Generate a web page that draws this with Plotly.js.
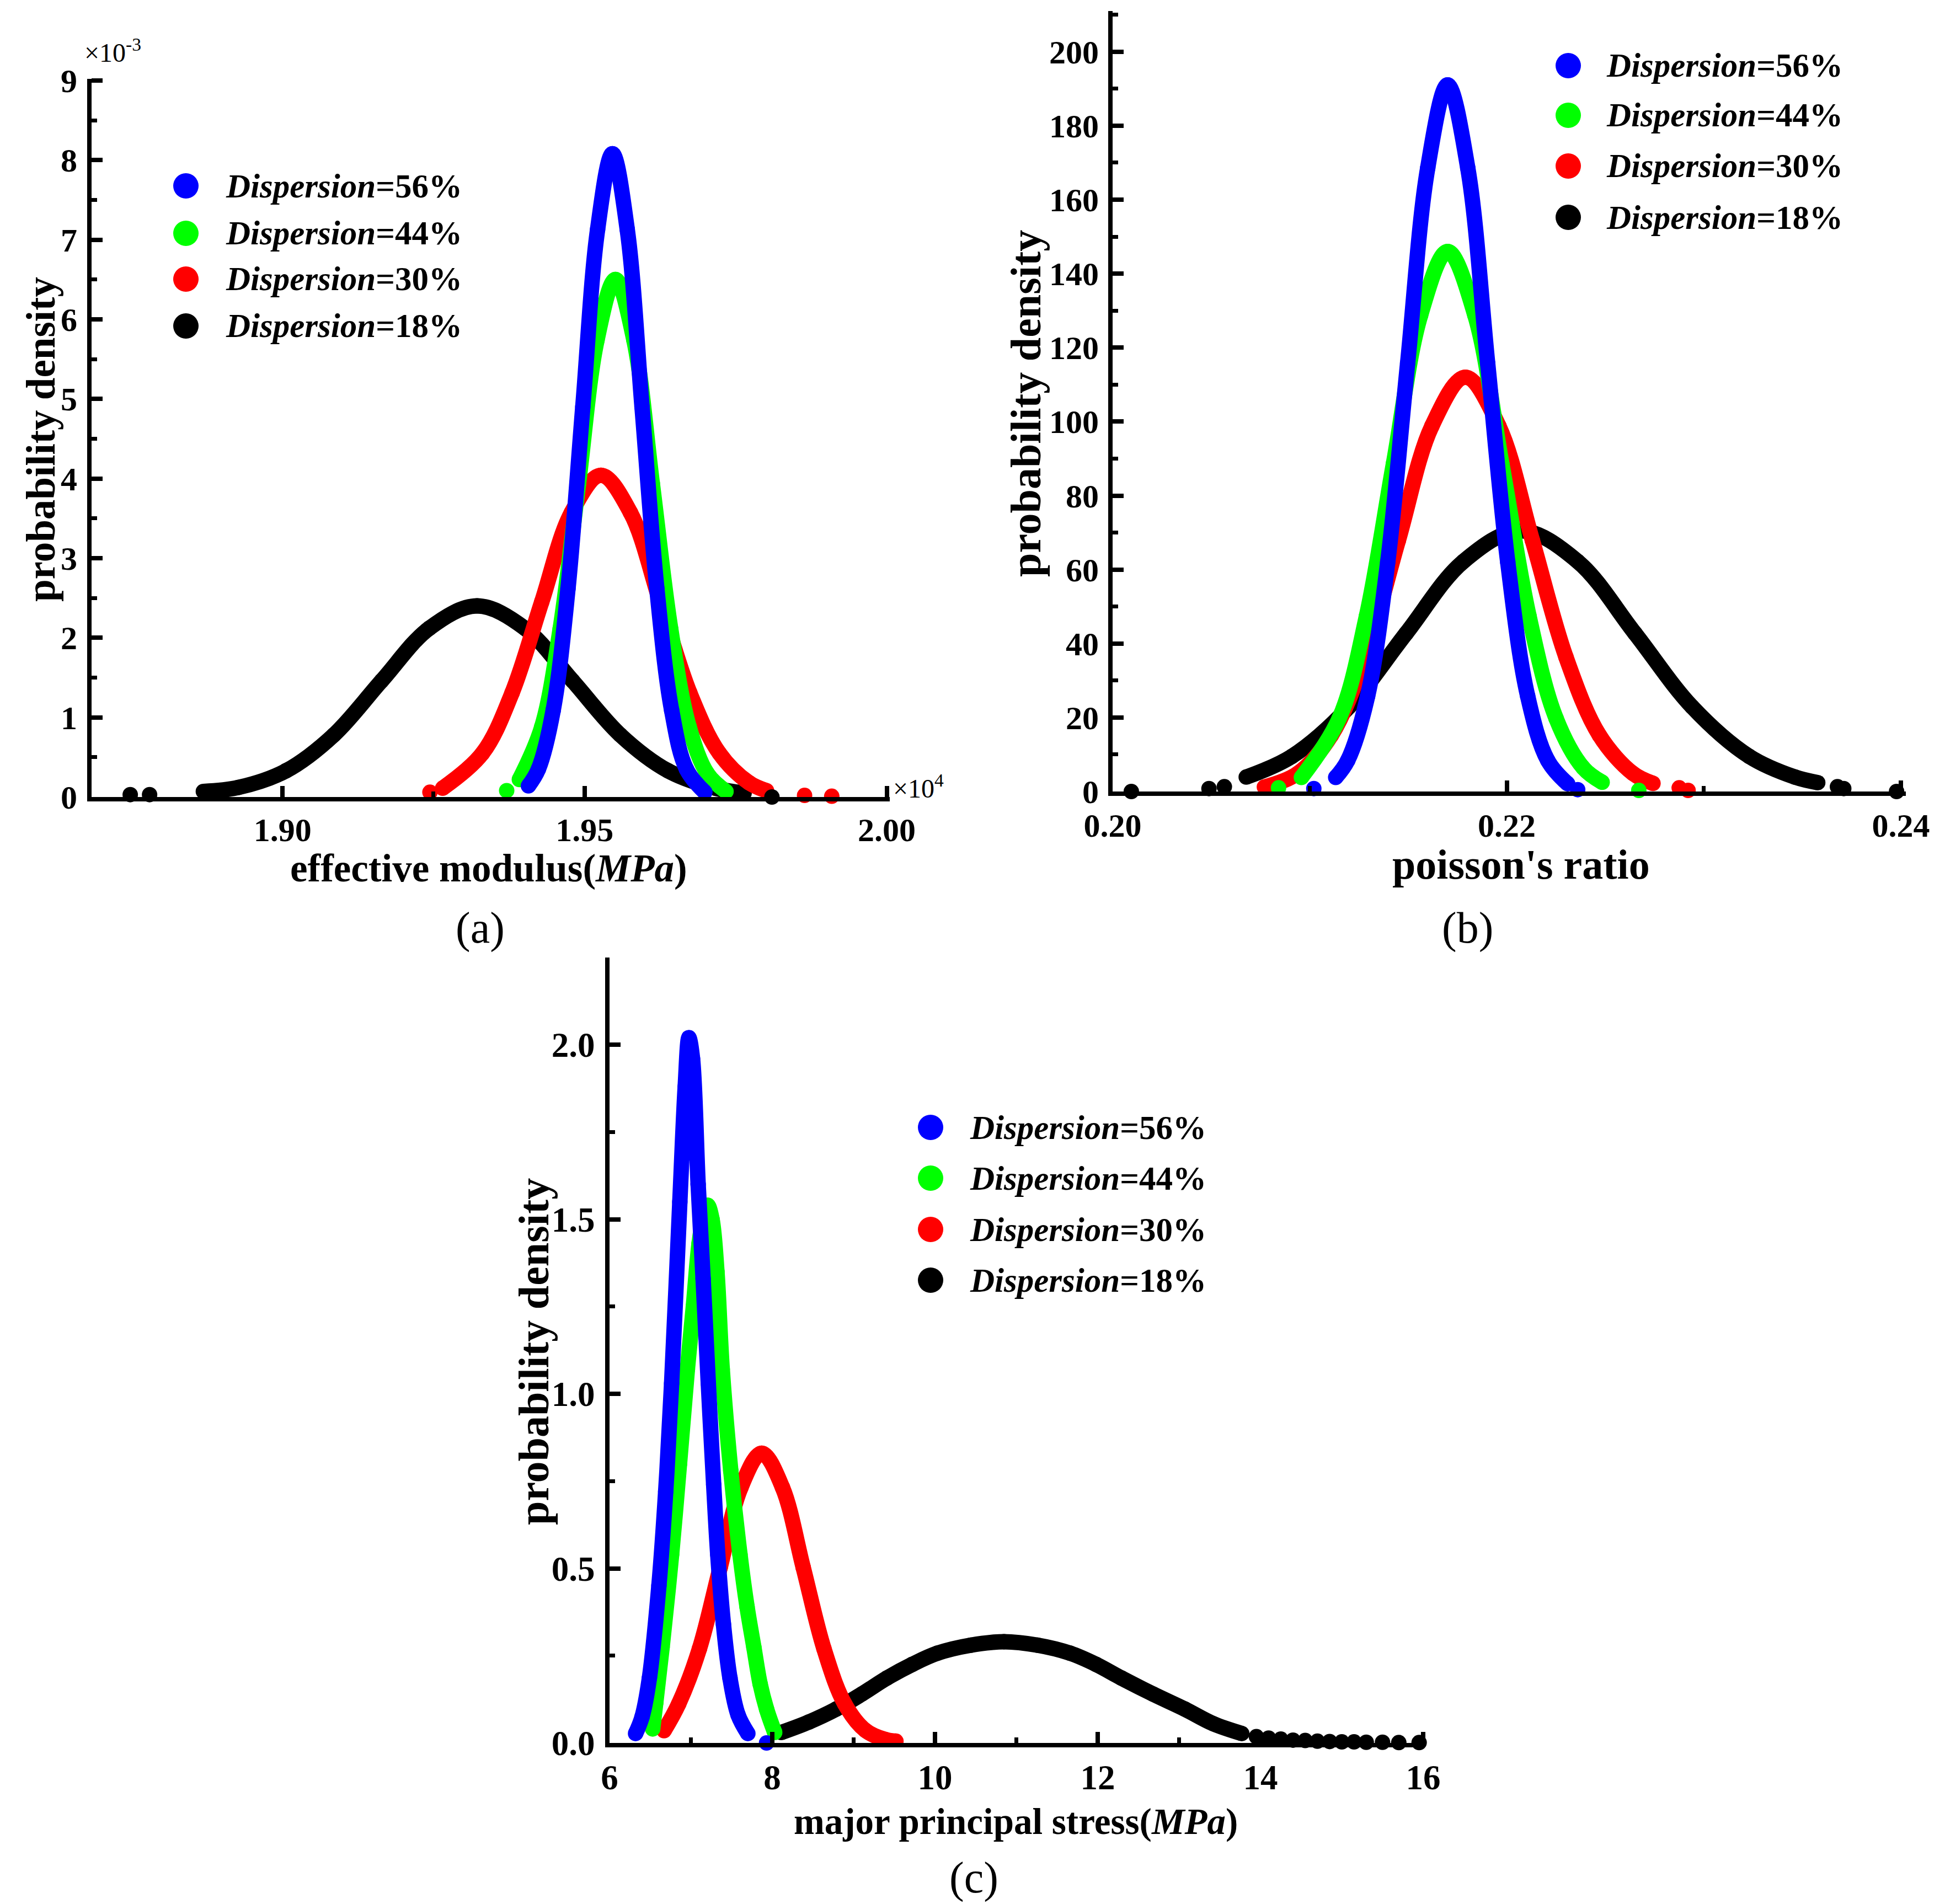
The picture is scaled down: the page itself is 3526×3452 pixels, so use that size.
<!DOCTYPE html>
<html lang="en">
<head>
    <meta charset="UTF-8">
    <title>Probability density by dispersion</title>
    <script src="https://cdn.plot.ly/plotly-3.0.1.min.js"></script>
    <style>
        body { margin: 0; background: #fff; }
        #plot { width: 3526px; height: 3452px; }
    </style>
</head>

<body>
<div id="plot"></div>
</body>

<script>
    // series labels, same order in all three panels
    let seriesNames = ["Dispersion=56%", "Dispersion=44%", "Dispersion=30%", "Dispersion=18%"]

    // (a) effective modulus, x in 10^4 MPa, y in 10^-3
    let aBlue56X = [1.9407, 1.94235, 1.9448, 1.94725, 1.9497, 1.95215, 1.9546, 1.95705, 1.9595, 1.96195, 1.9644, 1.96685, 1.9699]
    let aBlue56Y = [0.14, 0.35, 1.09, 2.62, 4.90, 7.13, 8.08, 7.13, 4.90, 2.62, 1.09, 0.35, 0.06]
    let aGreen44X = [1.9392, 1.9429, 1.94595, 1.9490, 1.95205, 1.9551, 1.95815, 1.9612, 1.96425, 1.9673, 1.97035, 1.9734]
    let aGreen44Y = [0.22, 0.88, 2.11, 3.94, 5.74, 6.50, 5.74, 3.94, 2.11, 0.88, 0.29, 0.07]
    let aRed30X = [1.9265, 1.9331, 1.9380, 1.9429, 1.9478, 1.9527, 1.9576, 1.9625, 1.9674, 1.9723, 1.9772, 1.9801]
    let aRed30Y = [0.11, 0.55, 1.31, 2.45, 3.57, 4.04, 3.57, 2.45, 1.31, 0.55, 0.18, 0.08]
    let aBlack18X = [1.8869, 1.8927, 1.9006, 1.9085, 1.9164, 1.9243, 1.9322, 1.9401, 1.9480, 1.9559, 1.9638, 1.9717, 1.9764]
    let aBlack18Y = [0.07, 0.12, 0.33, 0.78, 1.46, 2.12, 2.40, 2.12, 1.46, 0.78, 0.33, 0.11, 0.05]
    let aGreenDotX = [1.9371]
    let aGreenDotY = [0.08]
    let aRedDotX = [1.9244, 1.9864, 1.9909]
    let aRedDotY = [0.06, 0.02, 0.01]
    let aBlackDotX = [1.8748, 1.8780, 1.9810]
    let aBlackDotY = [0.03, 0.03, 0.0]
    let aXTicks = [1.90, 1.95, 2.00]
    let aYTicks = [0, 1, 2, 3, 4, 5, 6, 7, 8, 9]

    // (b) poisson's ratio
    let bBlue56X = [0.21132, 0.21193, 0.21294, 0.21396, 0.21497, 0.21599, 0.2170, 0.21802, 0.21903, 0.22005, 0.22106, 0.22208, 0.22309]
    let bBlue56Y = [3.8, 8.4, 25.8, 62.0, 115.8, 168.6, 191, 168.6, 115.8, 62.0, 25.8, 8.4, 2.1]
    let bGreen44X = [0.20958, 0.2115, 0.21288, 0.21425, 0.21563, 0.2170, 0.21838, 0.21975, 0.22113, 0.2225, 0.22388, 0.22484]
    let bGreen44Y = [3.8, 19.8, 47.4, 88.6, 128.8, 146, 128.8, 88.6, 47.4, 19.8, 6.4, 2.5]
    let bRed30X = [0.2077, 0.2094, 0.2111, 0.2128, 0.2145, 0.2162, 0.2179, 0.2196, 0.2213, 0.2230, 0.2247, 0.2264, 0.22742]
    let bRed30Y = [1.2, 4.9, 15.2, 36.4, 67.9, 98.8, 112, 98.8, 67.9, 36.4, 15.2, 4.9, 2.2]
    let bBlack18X = [0.20678, 0.2091, 0.2120, 0.2149, 0.2178, 0.2207, 0.2236, 0.2265, 0.2294, 0.2323, 0.23462, 0.23578]
    let bBlack18Y = [3.9, 9.5, 22.9, 42.8, 62.2, 70.5, 62.2, 42.8, 22.9, 9.5, 3.9, 2.4]
    let bBlueDotX = [0.21021, 0.2236]
    let bBlueDotY = [0.8, 0.5]
    let bGreenDotX = [0.20842, 0.2267]
    let bGreenDotY = [1.0, 0.3]
    let bRedDotX = [0.22875, 0.2292]
    let bRedDotY = [1.0, 0.3]
    let bBlackDotX = [0.20095, 0.20489, 0.20567, 0.23678, 0.2371, 0.23978]
    let bBlackDotY = [0, 0.8, 1.3, 1.3, 0.8, 0]
    let bXTicks = [0.20, 0.22, 0.24]
    let bYTicks = [0, 20, 40, 60, 80, 100, 120, 140, 160, 180, 200]

    // (c) major principal stress, MPa
    let cBlue56X = [6.32, 6.40, 6.49, 6.607, 6.69, 6.763, 6.864, 6.93, 6.975, 7.02, 7.089, 7.15, 7.214, 7.28, 7.33, 7.40, 7.48, 7.58, 7.70]
    let cBlue56Y = [0.027, 0.075, 0.186, 0.451, 0.72, 1.03, 1.55, 1.88, 2.02, 1.96, 1.60, 1.33, 1.03, 0.74, 0.54, 0.34, 0.186, 0.08, 0.027]
    let cGreen44X = [6.53, 6.568, 6.646, 6.763, 6.86, 6.957, 7.03, 7.10, 7.15, 7.206, 7.26, 7.32, 7.385, 7.49, 7.603, 7.69, 7.774, 7.85, 7.93, 8.03]
    let cGreen44Y = [0.04, 0.115, 0.274, 0.54, 0.80, 1.071, 1.25, 1.43, 1.50, 1.54, 1.50, 1.35, 1.071, 0.78, 0.54, 0.39, 0.274, 0.17, 0.097, 0.03]
    let cRed30X = [6.67, 6.85, 7.105, 7.36, 7.615, 7.87, 8.125, 8.38, 8.635, 8.89, 9.145, 9.40, 9.52]
    let cRed30Y = [0.035, 0.112, 0.27, 0.503, 0.732, 0.83, 0.732, 0.503, 0.27, 0.112, 0.036, 0.009, 0.005]
    let cBlack18X = [8.11, 8.45, 8.786, 9.1, 9.41, 9.72, 10.03, 10.44, 10.848, 11.26, 11.66, 11.98, 12.29, 12.68, 13.07, 13.42, 13.77]
    let cBlack18Y = [0.03, 0.06, 0.097, 0.14, 0.186, 0.225, 0.257, 0.280, 0.29, 0.280, 0.257, 0.225, 0.186, 0.14, 0.097, 0.055, 0.027]
    let cBlueDotX = [7.93]
    let cBlueDotY = [0.0]
    let cBlackDotX = [13.95, 14.1, 14.25, 14.4, 14.55, 14.7, 14.85, 15.0, 15.15, 15.3, 15.5, 15.7, 15.95]
    let cBlackDotY = [0.018, 0.014, 0.011, 0.008, 0.007, 0.005, 0.004, 0.003, 0.003, 0.002, 0.002, 0.001, 0.001]
    let cXTicks = [6, 8, 10, 12, 14, 16]
    let cYTicks = [0, 0.5, 1.0, 1.5, 2.0]

    // ---- drawing ----
    const W = 3526, H = 3452
    const FONT = "Liberation Serif"
    const BLUE = "#0000ff", GREEN = "#00ff00", RED = "#ff0000", BLACK = "#000000"
    const LINE_W = 28

    function px(x) { return x / W }
    function py(y) { return 1 - y / H }

    // thick line, with a same-size dot at each point so the ends come out round
    function curve(x, y, color, ax) {
        return {
            x: x, y: y, xaxis: "x" + ax, yaxis: "y" + ax,
            type: "scatter", mode: "lines+markers",
            line: {color: color, width: LINE_W, shape: "spline", smoothing: 1},
            marker: {color: color, size: LINE_W},
            showlegend: false, hoverinfo: "skip"
        }
    }

    function dots(x, y, color, ax) {
        return {
            x: x, y: y, xaxis: "x" + ax, yaxis: "y" + ax,
            type: "scatter", mode: "markers", cliponaxis: false,
            marker: {color: color, size: LINE_W},
            showlegend: false, hoverinfo: "skip"
        }
    }

    let data = [
        curve(aBlack18X, aBlack18Y, BLACK, ""),
        curve(aRed30X, aRed30Y, RED, ""),
        curve(aGreen44X, aGreen44Y, GREEN, ""),
        curve(aBlue56X, aBlue56Y, BLUE, ""),
        dots(aBlackDotX, aBlackDotY, BLACK, ""),
        dots(aRedDotX, aRedDotY, RED, ""),
        dots(aGreenDotX, aGreenDotY, GREEN, ""),

        curve(bBlack18X, bBlack18Y, BLACK, "2"),
        curve(bRed30X, bRed30Y, RED, "2"),
        curve(bGreen44X, bGreen44Y, GREEN, "2"),
        curve(bBlue56X, bBlue56Y, BLUE, "2"),
        dots(bBlackDotX, bBlackDotY, BLACK, "2"),
        dots(bRedDotX, bRedDotY, RED, "2"),
        dots(bGreenDotX, bGreenDotY, GREEN, "2"),
        dots(bBlueDotX, bBlueDotY, BLUE, "2"),

        curve(cBlack18X, cBlack18Y, BLACK, "3"),
        curve(cRed30X, cRed30Y, RED, "3"),
        curve(cGreen44X, cGreen44Y, GREEN, "3"),
        curve(cBlue56X, cBlue56Y, BLUE, "3"),
        dots(cBlackDotX, cBlackDotY, BLACK, "3"),
        dots(cBlueDotX, cBlueDotY, BLUE, "3")
    ]

    function axis(opts, fontSize, standoff, minorStep, minorStart) {
        return Object.assign({
            showline: true, linecolor: BLACK, linewidth: 8,
            showgrid: false, zeroline: false,
            ticks: "inside", ticklen: 20, tickwidth: 8, tickcolor: BLACK,
            tickmode: "array",
            tickfont: {family: FONT, size: fontSize, color: BLACK, weight: "bold"},
            ticklabelstandoff: standoff,
            minor: {ticks: "inside", ticklen: 10, tickwidth: 7, tickcolor: BLACK,
                    dtick: minorStep, tick0: minorStart, showgrid: false},
            automargin: false, fixedrange: true
        }, opts)
    }

    let layout = {
        width: W, height: H,
        margin: {l: 0, r: 0, t: 0, b: 0},
        paper_bgcolor: "#fff", plot_bgcolor: "rgba(0,0,0,0)",
        showlegend: false,
        font: {family: FONT, color: BLACK},
        xaxis: axis({domain: [px(166), px(1613)], anchor: "y", range: [1.8684, 2.0005],
            tickvals: aXTicks, ticktext: aXTicks.map(v => v.toFixed(2))}, 60, 0, 0.025, 1.875),
        yaxis: axis({domain: [py(1445), py(143)], anchor: "x", range: [0, 9.02],
            tickvals: aYTicks, ticktext: aYTicks.map(String)}, 60, 6, 0.5, 0),
        xaxis2: axis({domain: [px(2017), px(3455)], anchor: "y2", range: [0.2, 0.24025],
            tickvals: bXTicks, ticktext: bXTicks.map(v => v.toFixed(2))}, 60, 2, 0.01, 0.2),
        yaxis2: axis({domain: [py(1435), py(20)], anchor: "x2", range: [0, 211],
            tickvals: bYTicks, ticktext: bYTicks.map(String)}, 60, 5, 10, 0),
        xaxis3: axis({domain: [px(1105), px(2583)], anchor: "y3", range: [6, 16.02],
            tickvals: cXTicks, ticktext: cXTicks.map(String)}, 63, 0, 1, 6),
        yaxis3: axis({domain: [py(3160), py(1736)], anchor: "x3", range: [0, 2.25],
            tickvals: cYTicks, ticktext: cYTicks.map(v => v.toFixed(1))}, 63, 6, 0.25, 0),
        annotations: [],
        shapes: []
    }

    function text(str, x, y, size, opts) {
        return Object.assign({
            text: str, xref: "paper", yref: "paper", x: px(x), y: py(y),
            xanchor: "center", yanchor: "middle", showarrow: false,
            font: {family: FONT, size: size, color: BLACK, weight: "bold"}
        }, opts || {})
    }

    // axis titles
    layout.annotations.push(
        text("probability density", 74, 797, 73, {textangle: -90}),
        text("effective modulus(<i>MPa</i>)", 886, 1574, 71),
        text("probability density", 1860, 731, 78, {textangle: -90}),
        text("poisson's ratio", 2757, 1567, 76),
        text("probability density", 967, 2451, 78, {textangle: -90}),
        text("major principal stress(<i>MPa</i>)", 1842, 3302, 67)
    )

    // panel letters and axis multipliers
    function plain(size) { return {family: FONT, size: size, color: BLACK, weight: "normal"} }
    layout.annotations.push(
        text("(a)", 870, 1682, 80, {font: plain(80)}),
        text("(b)", 2660, 1682, 80, {font: plain(80)}),
        text("(c)", 1765, 3404, 80, {font: plain(80)}),
        text("×10<sup>-3</sup>", 151, 92, 48, {xanchor: "left", font: plain(48)}),
        text("×10<sup>4</sup>", 1617, 1426, 48, {xanchor: "left", font: plain(48)})
    )

    // legends: one circle and one label per series, per panel
    let colors = [BLUE, GREEN, RED, BLACK]
    let legends = [
        {cx: 337, tx: 407, rows: [337, 423, 506, 591]},
        {cx: 2843, tx: 2910, rows: [119, 209, 301, 394]},
        {cx: 1687, tx: 1756, rows: [2044, 2136, 2229, 2321]}
    ]
    legends.forEach(function (lg) {
        seriesNames.forEach(function (name, i) {
            let parts = name.split("=")
            layout.shapes.push({
                type: "circle", xref: "paper", yref: "paper",
                xsizemode: "pixel", ysizemode: "pixel",
                xanchor: px(lg.cx), yanchor: py(lg.rows[i]),
                x0: -23, x1: 23, y0: -23, y1: 23,
                fillcolor: colors[i], line: {width: 0}
            })
            layout.annotations.push(
                text("<i>" + parts[0] + "</i>=" + parts[1], lg.tx, lg.rows[i], 61, {xanchor: "left"})
            )
        })
    })

    Plotly.newPlot("plot", data, layout, {staticPlot: true})
</script>
</html>
